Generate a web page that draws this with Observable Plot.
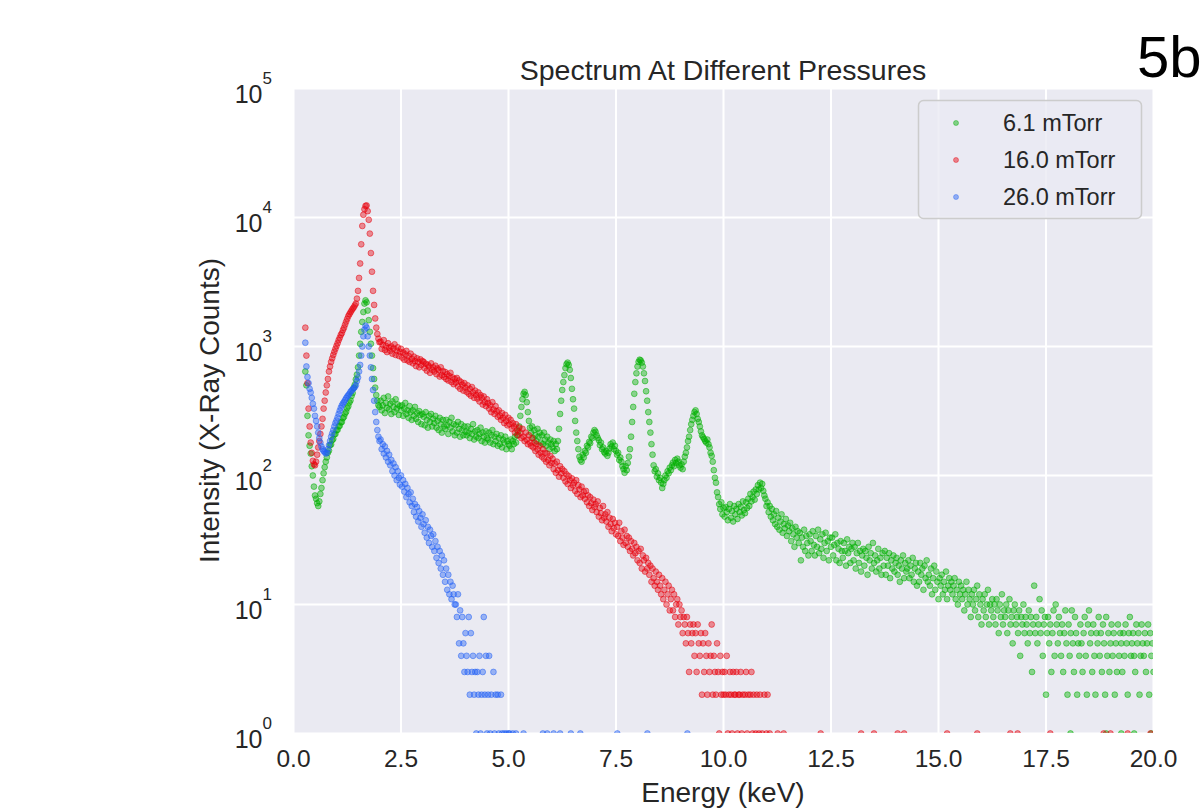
<!DOCTYPE html>
<html>
<head>
<meta charset="utf-8">
<script src="https://cdn.jsdelivr.net/npm/d3@7"></script>
<script src="https://cdn.jsdelivr.net/npm/@observablehq/plot@0.6"></script>
<style>
  body { margin: 0; background: #ffffff; }
  svg { font-family: "Liberation Sans", Arial, sans-serif; }
</style>
</head>
<body>
<div id="chart"></div>
<script>
// ---------------- data ----------------
const seriesNames = ["6.1 mTorr", "16.0 mTorr", "26.0 mTorr"];
const seriesColors = ["#00b000", "#e8000b", "#2462f5"];

// detector channels: first channel energy and channel width (keV)
const channelStart = 0.275;
const channelWidth = 0.025;

// counts per channel, 6.1 mTorr (0.275 .. 20.0 keV)
const green = [
  640, 500, 290, 205, 170, 148, 118, 100, 82, 70,
  66, 61, 58, 63, 72, 80, 92, 104, 116, 128,
  138, 150, 156, 172, 174, 188, 192, 208, 210, 224,
  226, 240, 243, 258, 260, 278, 285, 302, 312, 333,
  345, 368, 382, 414, 436, 478, 505, 556, 605, 690,
  850, 1050, 1300, 1550, 1850, 2150, 2280, 2200, 1900, 1600,
  1300, 1050, 850, 680, 560, 480, 420, 380, 350, 340,
  380, 320, 350, 400, 305, 365, 335, 410, 325, 360,
  300, 375, 340, 310, 390, 330, 355, 295, 345, 320,
  350, 290, 330, 365, 300, 320, 280, 345, 310, 270,
  320, 290, 340, 275, 305, 260, 315, 295, 250, 300,
  285, 245, 310, 270, 235, 290, 260, 300, 240, 275,
  255, 290, 235, 265, 225, 280, 250, 215, 270, 240,
  230, 270, 245, 210, 260, 235, 280, 220, 250, 205,
  245, 215, 260, 230, 200, 250, 225, 205, 240, 218,
  205, 240, 215, 195, 230, 210, 250, 190, 220, 200,
  225, 195, 210, 235, 185, 215, 200, 180, 220, 195,
  190, 215, 180, 205, 225, 175, 200, 185, 210, 170,
  195, 175, 205, 165, 190, 180, 200, 160, 185, 175,
  170, 190, 160, 185, 175, 200, 180, 205, 220, 240,
  290, 340, 390, 430, 445, 420, 370, 310, 265, 235,
  215, 240, 195, 225, 205, 185, 230, 200, 215, 180,
  205, 175, 215, 190, 170, 200, 180, 160, 190, 175,
  165, 185, 155, 175, 160, 185, 230, 300, 380, 460,
  530, 600, 680, 730, 750, 720, 660, 570, 470, 390,
  330, 265, 215, 185, 160, 140, 132, 128, 145, 138,
  155, 150, 170, 165, 182, 178, 200, 195, 215, 225,
  218, 205, 196, 188, 172, 180, 160, 165, 152, 148,
  155, 142, 150, 162, 175, 168, 180, 160, 170, 155,
  145, 150, 132, 138, 128, 118, 112, 105, 118, 110,
  125, 140, 160, 200, 260, 340, 430, 530, 620, 700,
  760, 790, 780, 750, 700, 620, 540, 450, 380, 310,
  260, 215, 175, 145, 120, 108, 112, 98, 104, 92,
  96, 88, 80, 86, 92, 100, 96, 108, 104, 115,
  110, 120, 126, 118, 132, 125, 135, 128, 120, 115,
  122, 112, 128, 140, 150, 165, 185, 200, 225, 250,
  270, 290, 310, 320, 300, 275, 260, 240, 220, 205,
  198, 192, 185, 180, 190, 175, 165, 150, 142, 128,
  110, 96, 88, 74, 68, 60, 55, 62, 50, 56,
  48, 57, 52, 45, 55, 60, 47, 53, 44, 58,
  50, 55, 46, 60, 52, 57, 49, 63, 54, 51,
  62, 56, 66, 58, 72, 63, 68, 75, 65, 78,
  72, 84, 78, 88, 80, 86, 76, 70, 66, 58,
  62, 52, 58, 48, 55, 45, 50, 42, 53, 40,
  47, 38, 44, 50, 36, 42, 39, 46, 34, 41,
  37, 43, 31, 39, 35, 28, 40, 33, 37, 30,
  36, 22, 33, 28, 38, 26, 34, 30, 24, 35,
  31, 26, 37, 29, 24, 34, 28, 38, 25, 32,
  27, 35, 23, 30, 36, 26, 31, 22, 33, 28,
  33, 24, 29, 35, 22, 30, 27, 21, 31, 26,
  23, 30, 26, 20, 32, 25, 28, 21, 27, 30,
  22, 28, 19, 25, 30, 21, 26, 18, 24, 27,
  20, 26, 23, 17, 28, 22, 25, 19, 30, 21,
  24, 18, 22, 27, 19, 23, 17, 25, 20, 26,
  17, 23, 20, 25, 16, 22, 19, 24, 18, 21,
  23, 17, 20, 15, 22, 19, 24, 16, 21, 18,
  19, 22, 16, 20, 17, 23, 15, 19, 21, 14,
  18, 15, 21, 17, 19, 13, 20, 16, 22, 15,
  17, 14, 19, 12, 16, 20, 13, 18, 15, 11,
  16, 14, 17, 12, 15, 13, 18, 11, 14, 16,
  13, 15, 12, 14, 16, 11, 13, 10, 15, 12,
  14, 11, 13, 9, 12, 15, 10, 13, 11, 8,
  12, 10, 13, 9, 11, 14, 8, 12, 10, 7,
  11, 9, 12, 8, 10, 13, 7, 10, 9, 11,
  8, 10, 7, 11, 9, 6, 10, 8, 12, 7,
  9, 8, 10, 6, 9, 11, 7, 8, 5, 9,
  10, 7, 8, 6, 9, 4, 8, 7, 10, 6,
  8, 7, 5, 9, 6, 8, 3, 7, 14, 6,
  8, 5, 7, 11, 6, 9, 4, 7, 8, 2,
  6, 8, 5, 7, 3, 6, 9, 4, 10, 7,
  5, 8, 6, 4, 7, 3, 6, 9, 5, 2,
  7, 4, 6, 9, 5, 3, 8, 6, 2, 5,
  4, 7, 5, 3, 6, 8, 4, 2, 7, 9,
  5, 6, 3, 7, 4, 2, 6, 5, 8, 4,
  6, 3, 7, 5, 2, 8, 4, 6, 3, 5,
  7, 4, 6, 2, 5, 3, 7, 4, 6, 5,
  3, 6, 4, 7, 5, 2, 6, 8, 4, 5,
  6, 4, 3, 7, 5, 6, 2, 4, 7, 5,
  4, 6, 3, 5, 7, 2, 6, 4, 5, 3
];

// counts per channel, 16.0 mTorr (0.275 .. 11.075 keV)
const red = [
  1400, 850, 520, 330, 240, 180, 150, 130, 122, 120,
  128, 145, 165, 185, 210, 240, 275, 330, 380, 440,
  500, 560, 640, 700, 760, 810, 860, 910, 960, 1010,
  1060, 1120, 1170, 1230, 1270, 1340, 1400, 1480, 1560, 1640,
  1720, 1780, 1840, 1900, 1960, 2010, 2080, 2150, 2350, 2700,
  3400, 4400, 6200, 8600, 10500, 11600, 12300, 12400, 11200, 9600,
  7500, 5300, 3800, 2700, 2100, 1650, 1400, 1250, 1150, 1080,
  1090, 960, 1030, 1120, 940, 1010, 905, 1060, 980, 925,
  1000, 880, 965, 1040, 860, 930, 985, 845, 910, 960,
  820, 900, 790, 870, 925, 780, 845, 760, 880, 800,
  740, 835, 770, 705, 810, 760, 690, 795, 720, 770,
  760, 680, 735, 650, 720, 700, 625, 740, 660, 690,
  640, 710, 610, 675, 655, 585, 690, 600, 645, 580,
  635, 560, 610, 545, 590, 625, 530, 575, 510, 560,
  525, 570, 490, 545, 470, 530, 505, 455, 520, 480,
  445, 500, 430, 470, 415, 485, 440, 400, 455, 420,
  395, 440, 375, 420, 400, 355, 410, 370, 345, 390,
  365, 330, 350, 310, 370, 325, 300, 345, 315, 285,
  320, 290, 270, 305, 280, 255, 295, 265, 245, 280,
  250, 270, 230, 255, 240, 215, 250, 225, 205, 235,
  215, 195, 230, 200, 185, 215, 190, 175, 205, 180,
  170, 195, 165, 180, 155, 175, 160, 145, 170, 150,
  140, 160, 135, 150, 128, 148, 132, 120, 142, 125,
  135, 112, 124, 105, 128, 110, 98, 118, 104, 112,
  96, 108, 90, 102, 86, 99, 92, 80, 95, 84,
  88, 76, 92, 72, 84, 78, 68, 82, 70, 75,
  66, 76, 62, 70, 58, 68, 61, 54, 65, 57,
  60, 52, 63, 48, 56, 51, 45, 58, 47, 50,
  44, 52, 40, 47, 42, 37, 46, 39, 43, 35,
  40, 34, 43, 31, 37, 33, 29, 38, 30, 34,
  28, 33, 26, 31, 27, 24, 30, 25, 28, 22,
  26, 21, 27, 19, 24, 22, 18, 23, 19, 21,
  17, 20, 15, 19, 16, 14, 18, 15, 13, 17,
  14, 12, 16, 11, 13, 15, 10, 12, 14, 9,
  11, 13, 9, 12, 8, 10, 11, 7, 10, 8,
  9, 6, 8, 7, 5, 8, 6, 3, 7, 5,
  6, 7, 4, 6, 3, 7, 5, 4, 6, 2,
  5, 3, 6, 4, 2, 5, 3, 4, 7, 2,
  4, 3, 2, 5, 3, 1, 4, 2, 3, 2,
  3, 2, 4, 1, 2, 3, 2, 1, 3, 2,
  2, 3, 1, 2, 2, 3, 1, 2, 0, 2,
  3, 1, 2, 0, 2, 3, 1, 2, 0, 1,
  2, 0, 1, 2, 0, 1, 0, 2, 0, 1,
  2, 0, 1
];

// counts per channel, 26.0 mTorr (0.275 .. 5.175 keV)
const blue = [
  1070, 700, 580, 520, 470, 440, 400, 360, 330, 290,
  265, 240, 215, 195, 180, 168, 160, 155, 152, 148,
  150, 160, 172, 185, 200, 212, 225, 240, 255, 267,
  282, 300, 318, 335, 350, 362, 372, 385, 398, 410,
  420, 430, 445, 455, 465, 475, 485, 500, 540, 575,
  640, 720, 850, 1000, 1200, 1350, 1450, 1400, 1200, 1000,
  850, 690, 560, 460, 380, 310, 260, 225, 200, 185,
  190, 160, 175, 148, 168, 138, 155, 128, 145, 120,
  132, 108, 124, 100, 116, 92, 108, 96, 85, 100,
  82, 92, 75, 86, 68, 80, 72, 62, 74, 58,
  66, 52, 60, 48, 57, 44, 53, 47, 40, 50,
  42, 36, 45, 33, 40, 30, 38, 34, 28, 35,
  26, 31, 23, 28, 21, 26, 19, 24, 17, 22,
  15, 19, 13, 17, 12, 15, 11, 14, 12, 10,
  10, 8, 12, 5, 9, 4, 8, 5, 3, 6,
  4, 3, 8, 2, 6, 3, 4, 2, 3, 1,
  3, 2, 4, 1, 2, 3, 8, 2, 4, 1,
  2, 4, 1, 2, 0, 3, 1, 2, 0, 2,
  1, 0, 2, 1, 0, 1, 0, 1, 0, 1,
  1, 0, 0, 1, 0, 0, 1
];

// isolated single-count channels further out (keV)
const greenOnes = [18.07, 18.9, 19.25, 19.55, 19.95];
const redOnes = [11.26, 11.4, 12.26, 13.2, 13.5, 14.05, 14.2, 15.2, 15.9, 16.67, 16.84, 17.6, 18.84, 19.0, 19.4, 19.93];
const blueOnes = [5.35, 5.8, 5.9, 6.05, 6.2, 6.45, 6.67, 7.53, 8.23, 9.16];

const xTicks = [0, 2.5, 5, 7.5, 10, 12.5, 15, 17.5, 20];
const yTicks = [1, 10, 100, 1000, 10000, 100000];
const yExponents = ["0", "1", "2", "3", "4", "5"];

const titleText = "Spectrum At Different Pressures";
const xLabel = "Energy (keV)";
const yLabel = "Intensity (X-Ray Counts)";
const panelTag = "5b";

// ---------------- table ----------------
const rows = [];
[[green, greenOnes], [red, redOnes], [blue, blueOnes]].forEach(([counts, ones], s) => {
  counts.forEach((c, i) => {
    if (c > 0) rows.push({energy: +(channelStart + i * channelWidth).toFixed(3), counts: c, series: seriesNames[s]});
  });
  ones.forEach(e => rows.push({energy: e, counts: 1, series: seriesNames[s]}));
});

// ---------------- chart ----------------
const W = 1201, H = 808;
const mL = 293, mR = 48, mT = 88, mB = 75;
const ink = "#262626";

const svg = Plot.plot({
  width: W,
  height: H,
  marginLeft: mL,
  marginRight: mR,
  marginTop: mT,
  marginBottom: mB,
  style: {background: "#ffffff", fontFamily: "'Liberation Sans', Arial, sans-serif"},
  x: {domain: [0, 20], axis: null},
  y: {type: "log", domain: [1, 1e5], axis: null},
  color: {domain: seriesNames, range: seriesColors},
  marks: [
    Plot.frame({fill: "#eaeaf2", stroke: "none"}),
    Plot.gridX(xTicks, {stroke: "#ffffff", strokeOpacity: 1, strokeWidth: 2}),
    Plot.gridY(yTicks, {stroke: "#ffffff", strokeOpacity: 1, strokeWidth: 2}),
    Plot.dot(rows, {
      x: "energy", y: "counts", fill: "series", stroke: "series",
      r: 2.9, fillOpacity: 0.42, strokeOpacity: 0.5, strokeWidth: 1, clip: true
    }),
    Plot.text(xTicks, {x: d => d, text: d => d.toFixed(1), frameAnchor: "bottom", dy: 33, fontSize: 24.5, fill: ink}),
    Plot.text(yTicks, {y: d => d, text: () => "10", frameAnchor: "left", textAnchor: "end", dx: -31, dy: 6, fontSize: 25, fill: ink}),
    Plot.text(yTicks, {y: d => d, text: (d, i) => yExponents[i], frameAnchor: "left", textAnchor: "start", dx: -31, dy: -10, fontSize: 17, fill: ink})
  ]
});

document.getElementById("chart").appendChild(svg);

const root = d3.select(svg);
const cx = mL + (W - mL - mR) / 2;

root.append("text")
  .attr("x", cx).attr("y", 80)
  .attr("text-anchor", "middle")
  .attr("font-size", 28.5).attr("fill", ink)
  .text(titleText);

root.append("text")
  .attr("x", cx).attr("y", 802)
  .attr("text-anchor", "middle")
  .attr("font-size", 28).attr("fill", ink)
  .text(xLabel);

root.append("text")
  .attr("transform", `translate(219,${mT + (H - mT - mB) / 2}) rotate(-90)`)
  .attr("text-anchor", "middle")
  .attr("font-size", 28).attr("fill", ink)
  .text(yLabel);

root.append("text")
  .attr("x", 1137).attr("y", 77)
  .attr("text-anchor", "start")
  .attr("font-size", 58).attr("fill", "#000000")
  .text(panelTag);

// legend
const lg = root.append("g");
lg.append("rect")
  .attr("x", 918.5).attr("y", 100.5).attr("width", 223).attr("height", 118).attr("rx", 5)
  .attr("fill", "#eaeaf2").attr("fill-opacity", 0.8)
  .attr("stroke", "#cccccc").attr("stroke-width", 1.5);
seriesNames.forEach((name, i) => {
  const y = 123 + i * 37;
  lg.append("circle").attr("cx", 956).attr("cy", y).attr("r", 2.5)
    .attr("fill", seriesColors[i]).attr("fill-opacity", 0.45)
    .attr("stroke", seriesColors[i]).attr("stroke-opacity", 0.4).attr("stroke-width", 1);
  lg.append("text").attr("x", 1003).attr("y", y + 8)
    .attr("text-anchor", "start")
    .attr("font-size", 23.5).attr("fill", ink)
    .text(name);
});
</script>
</body>
</html>
